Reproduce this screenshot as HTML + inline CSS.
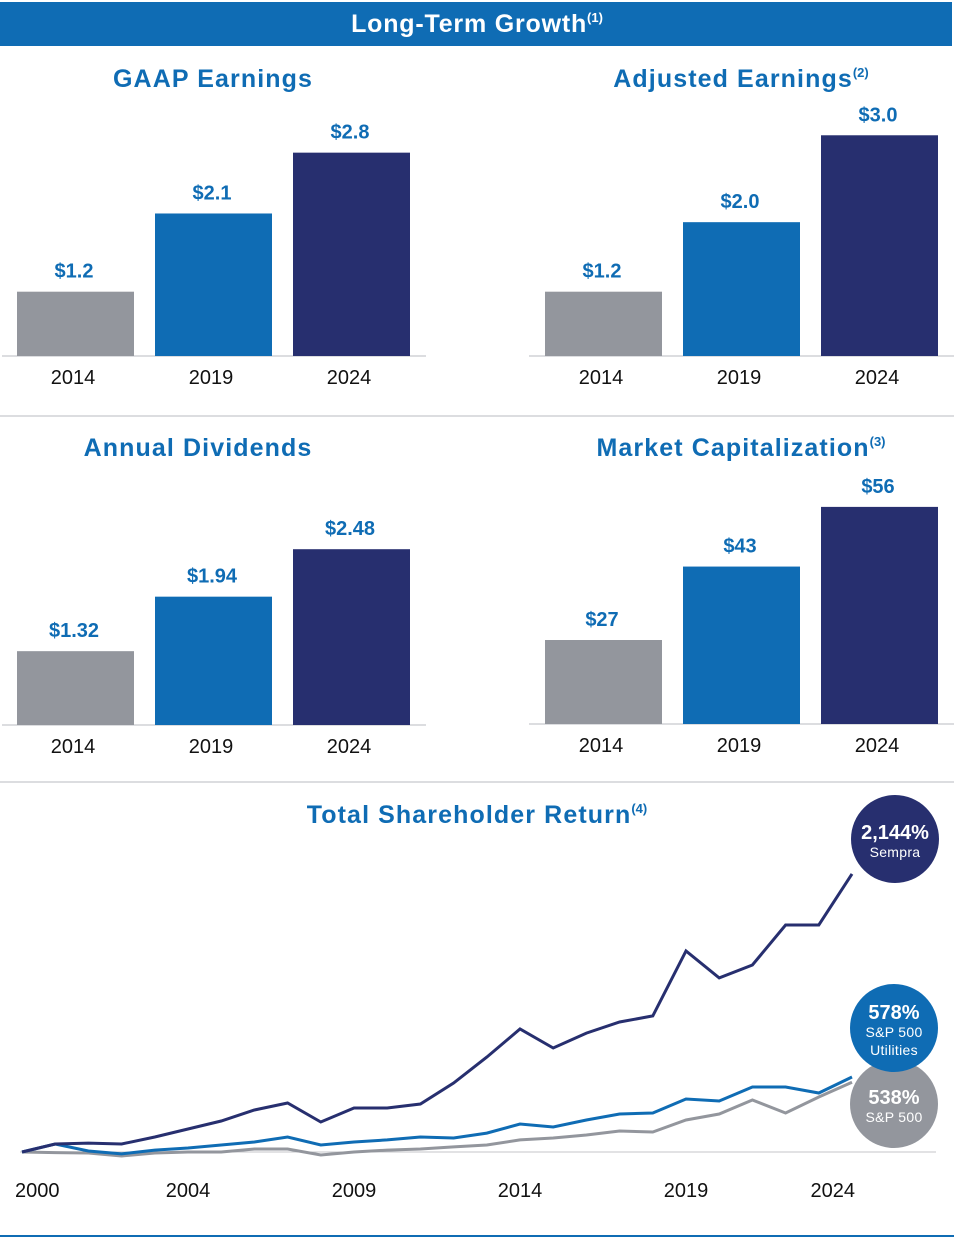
<!DOCTYPE html>
<html><head><meta charset="utf-8">
<style>
html,body{margin:0;padding:0;background:#fff;}
svg{display:block;font-family:"Liberation Sans",Arial,sans-serif;}
</style></head>
<body>
<svg id="root" width="954" height="1238" viewBox="0 0 954 1238">
  <rect x="0" y="2" width="952" height="44" fill="#0f6cb4"/>
  <text x="477" y="32" text-anchor="middle" fill="#fff" font-size="25" font-weight="bold" letter-spacing="0.8">Long-Term Growth<tspan font-size="13" dy="-10" letter-spacing="0">(1)</tspan></text>
  <line x1="0" y1="416" x2="954" y2="416" stroke="#b8bbc0" stroke-width="1"/>
  <line x1="0" y1="782" x2="954" y2="782" stroke="#b8bbc0" stroke-width="1"/>
  <line x1="0" y1="1236" x2="954" y2="1236" stroke="#0f6cb4" stroke-width="2"/>
  <g id="bars"></g>
  <g id="tsr"></g>
</svg>
<script>
var barYears = ["2014","2019","2024"];
var gaapValues = [1.2, 2.1, 2.8];
var gaapLabels = ["$1.2","$2.1","$2.8"];
var adjValues = [1.2, 2.0, 3.0];
var adjLabels = ["$1.2","$2.0","$3.0"];
var divValues = [1.32, 1.94, 2.48];
var divLabels = ["$1.32","$1.94","$2.48"];
var capValues = [27, 43, 56];
var capLabels = ["$27","$43","$56"];

var tsrYears = [1999,2000,2001,2002,2003,2004,2005,2006,2007,2008,2009,2010,2011,2012,2013,2014,2015,2016,2017,2018,2019,2020,2021,2022,2023,2024];
var sempraTsr = [0,62,69,62,116,177,239,324,378,231,339,339,370,532,732,948,802,917,1002,1049,1550,1342,1442,1750,1750,2144];
var utilTsr = [0,62,8,-15,15,31,54,77,116,54,77,93,116,108,146,216,193,247,293,301,409,393,501,501,455,578];
var spTsr = [0,-5,-8,-31,-8,0,0,23,23,-23,0,15,23,39,54,93,108,131,162,154,247,293,401,301,424,538];
var tsrTickYears = [2000,2004,2009,2014,2019,2024];

var NS="http://www.w3.org/2000/svg";
var colors=["#93969d","#0f6cb4","#272f6f"];
function mk(tag, attrs, parent){var e=document.createElementNS(NS,tag);for(var k in attrs)e.setAttribute(k,attrs[k]);parent.appendChild(e);return e;}

var panels=[
 {title:"GAAP Earnings",sup:"",vals:gaapValues,labs:gaapLabels,x0:17,base:356,ax1:2,ax2:426,tx:213,ty:87,k:86.9,min:0.46,name:"gaap-earnings"},
 {title:"Adjusted Earnings",sup:"(2)",vals:adjValues,labs:adjLabels,x0:545,base:356,ax1:529,ax2:954,tx:741,ty:87,k:86.9,min:0.46,name:"adjusted-earnings"},
 {title:"Annual Dividends",sup:"",vals:divValues,labs:divLabels,x0:17,base:725,ax1:2,ax2:426,tx:198,ty:456,k:87.9,min:0.48,name:"annual-dividends"},
 {title:"Market Capitalization",sup:"(3)",vals:capValues,labs:capLabels,x0:545,base:724,ax1:529,ax2:954,tx:741,ty:456,k:4.59,min:8.7,name:"market-capitalization"}
];
var bg=document.getElementById('bars');
panels.forEach(function(p){
  var g=mk('g',{},bg);
  
  
  var t=mk('text',{x:p.tx,y:p.ty,'text-anchor':'middle',fill:'#0f6cb4','font-size':'25','font-weight':'bold','letter-spacing':'1.1'},g);
  
  
  t.textContent=p.title;
  if(p.sup){var s=mk('tspan',{'font-size':'13',dy:'-10','letter-spacing':'0'},t);s.textContent=p.sup;}
  var ax=mk('line',{x1:p.ax1,y1:p.base,x2:p.ax2,y2:p.base,stroke:'#b8bbc0','stroke-width':1},g);
  
  
  p.vals.forEach(function(v,i){
    var h=(v-p.min)*p.k, x=p.x0+i*138;
    var r=mk('rect',{x:x,y:p.base-h,width:117,height:h,fill:colors[i]},g);
    
    
    var l=mk('text',{x:x+57,y:p.base-h-14,'text-anchor':'middle',fill:'#0f6cb4','font-size':'20','font-weight':'bold'},g);
    
    
    l.textContent=p.labs[i];
    var yl=mk('text',{x:x+56,y:p.base+28,'text-anchor':'middle',fill:'#111','font-size':'20'},g);
    
    
    yl.textContent=barYears[i];
  });
});

var tg=document.getElementById('tsr');
function xs(yr){return 22+(yr-1999)*33.2;}
function ys(v){return 1152-v*0.1297;}
var tt=mk('text',{x:477,y:823,'text-anchor':'middle',fill:'#0f6cb4','font-size':'25','font-weight':'bold','letter-spacing':'1.1'},tg);


tt.textContent='Total Shareholder Return';
var ts=mk('tspan',{'font-size':'13',dy:'-10','letter-spacing':'0'},tt);ts.textContent='(4)';
var bl=mk('line',{x1:20,y1:ys(0),x2:936,y2:ys(0),stroke:'#c4c6ca','stroke-width':1},tg);


tsrTickYears.forEach(function(y,i){
  var anchor='middle', x=xs(y);
  if(i===0){anchor='start';x=xs(1999)-7;}
  if(i===tsrTickYears.length-1){anchor='end';x=xs(2024)+3;}
  var t=mk('text',{x:x,y:1197,'text-anchor':anchor,fill:'#111','font-size':'20'},tg);
  
  
  t.textContent=String(y);
});
function line(vals,color,name){
  var d=vals.map(function(v,i){return (i?'L':'M')+xs(tsrYears[i]).toFixed(1)+' '+ys(v).toFixed(1);}).join(' ');
  var p=mk('path',{d:d,fill:'none',stroke:color,'stroke-width':3,'stroke-linejoin':'miter'},tg);
  
  
}
line(spTsr,'#93969d','sp500-line');
line(utilTsr,'#0f6cb4','utilities-line');
line(sempraTsr,'#272f6f','sempra-line');

function bubble(cx,cy,fill,big,smalls,name){
  var g=mk('g',{},tg);
  
  
  mk('circle',{cx:cx,cy:cy,r:44,fill:fill},g);
  var b=mk('text',{x:cx,y:cy+(smalls.length>1?-9:0),'text-anchor':'middle',fill:'#fff','font-size':'20','font-weight':'bold'},g);
  b.textContent=big;
  smalls.forEach(function(s,i){
    var t=mk('text',{x:cx,y:cy+(smalls.length>1?9:18)+i*18,'text-anchor':'middle',fill:'#fff','font-size':'14','letter-spacing':'0.3'},g);
    t.textContent=s;
  });
}
bubble(895,839,'#272f6f','2,144%',['Sempra'],'sempra-bubble');
bubble(894,1104,'#93969d','538%',['S&P 500'],'sp500-bubble');
bubble(894,1028,'#0f6cb4','578%',['S&P 500','Utilities'],'utilities-bubble');
</script>
</body></html>
